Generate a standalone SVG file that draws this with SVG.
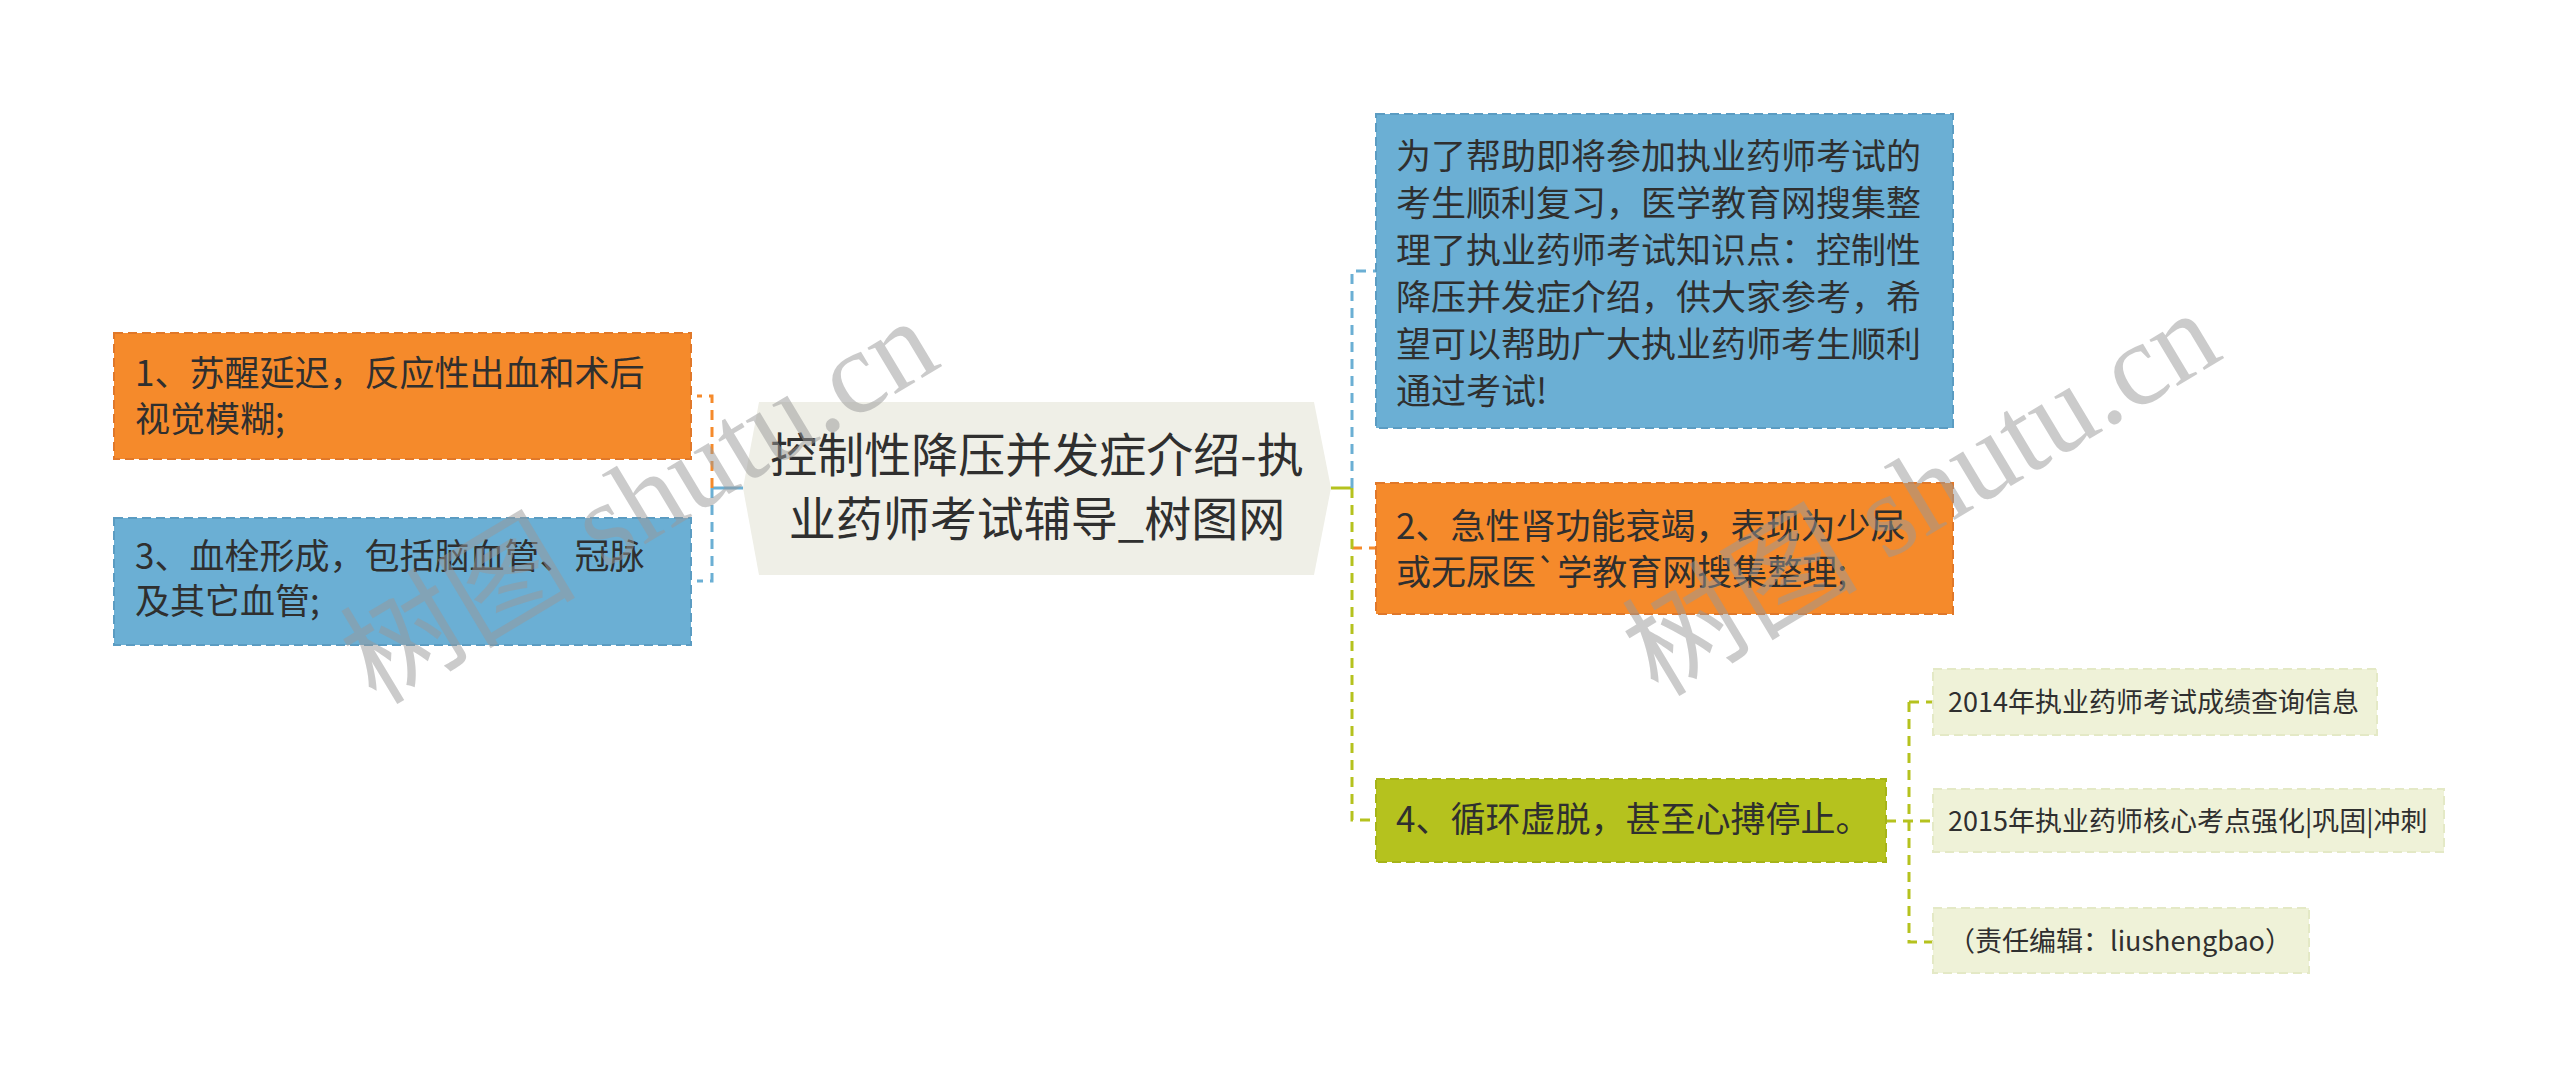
<svg xmlns="http://www.w3.org/2000/svg" width="2560" height="1088" viewBox="0 0 2560 1088">
<style>
text{font-family:"Noto Sans CJK SC","Noto Sans",sans-serif;fill:#2f2f2f}
.t34{font-size:35px}
.t46{font-size:47px}
.t27{font-size:27px}
.orange{fill:#F58A2B;stroke:#E0782A;stroke-width:2;stroke-dasharray:9 5}
.blue{fill:#6BAFD4;stroke:#5B9CC2;stroke-width:2;stroke-dasharray:9 5}
.green{fill:#B5C21E;stroke:#A6B418;stroke-width:2;stroke-dasharray:9 5}
.sub{fill:#EFF2D8;stroke:#E4E9C6;stroke-width:2;stroke-dasharray:9 5}
.c{fill:none;stroke-width:3;stroke-dasharray:10 7}
.co{stroke:#F58A2B}.cb{stroke:#6BAFD4}.cg{stroke:#B5C21E}
.wm{font-family:"Liberation Serif","Noto Sans CJK SC",serif;font-size:118px;fill:#999999;opacity:0.5}
</style>
<rect width="2560" height="1088" fill="#ffffff"/>
<g id="connectors">
<path d="M743,488 H712" fill="none" stroke="#6BAFD4" stroke-width="3"/>
<path class="c co" d="M712,488 V396 H697"/>
<path class="c cb" d="M712,488 V581 H697"/>
<path d="M1331,488 H1352" fill="none" stroke="#B5C21E" stroke-width="3"/>
<path class="c cb" d="M1352,488 V271 H1376"/>
<path class="c co" d="M1352,548 H1376"/>
<path class="c cg" d="M1352,488 V820 H1376"/>
<path class="c cg" d="M1886,821 H1933"/>
<path class="c cg" d="M1909,702 V942 H1933 M1909,702 H1933"/>
</g>
<g id="root">
<polygon points="743,488 759,402 1314,402 1331,488 1314,575 759,575" fill="#EFEFE7"/>
<text class="t46" x="1037" y="472" text-anchor="middle">控制性降压并发症介绍-执</text>
<text class="t46" x="1037" y="536" text-anchor="middle">业药师考试辅导_树图网</text>
</g>
<g id="node1">
<rect class="orange" x="114" y="333" width="577" height="126"/>
<text class="t34" x="135" y="386">1、苏醒延迟，反应性出血和术后</text>
<text class="t34" x="135" y="432">视觉模糊;</text>
</g>
<g id="node3">
<rect class="blue" x="114" y="518" width="577" height="127"/>
<text class="t34" x="135" y="569">3、血栓形成，包括脑血管、冠脉</text>
<text class="t34" x="135" y="614">及其它血管;</text>
</g>
<g id="nodeIntro">
<rect class="blue" x="1376" y="114" width="577" height="314"/>
<text class="t34" x="1396" y="169">为了帮助即将参加执业药师考试的</text>
<text class="t34" x="1396" y="216">考生顺利复习，医学教育网搜集整</text>
<text class="t34" x="1396" y="263">理了执业药师考试知识点：控制性</text>
<text class="t34" x="1396" y="310">降压并发症介绍，供大家参考，希</text>
<text class="t34" x="1396" y="357">望可以帮助广大执业药师考生顺利</text>
<text class="t34" x="1396" y="404">通过考试!</text>
</g>
<g id="node2">
<rect class="orange" x="1376" y="483" width="577" height="131"/>
<text class="t34" x="1396" y="539">2、急性肾功能衰竭，表现为少尿</text>
<text class="t34" x="1396" y="585">或无尿医`学教育网搜集整理;</text>
</g>
<g id="node4">
<rect class="green" x="1376" y="779" width="510" height="83"/>
<text class="t34" x="1396" y="832">4、循环虚脱，甚至心搏停止。</text>
</g>
<g id="sub1">
<rect class="sub" x="1933" y="669" width="444" height="66"/>
<text class="t27" x="1948" y="712">2014年执业药师考试成绩查询信息</text>
</g>
<g id="sub2">
<rect class="sub" x="1933" y="789" width="511" height="63"/>
<text class="t27" x="1948" y="831">2015年执业药师核心考点强化|巩固|冲刺</text>
</g>
<g id="sub3">
<rect class="sub" x="1933" y="908" width="376" height="65"/>
<text class="t27" x="1948" y="951">（责任编辑：liushengbao）</text>
</g>
<g id="watermarks">
<text class="wm" transform="translate(376,706) rotate(-31)">树图 shutu.cn</text>
<text class="wm" transform="translate(1658,698) rotate(-31)">树图 shutu.cn</text>
</g>
</svg>
